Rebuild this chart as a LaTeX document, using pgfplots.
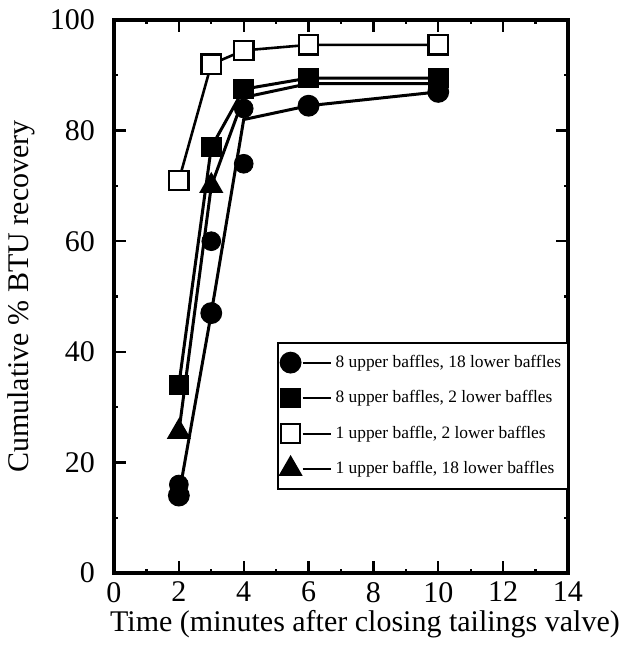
\documentclass[border=0pt]{standalone}
\usepackage{fontspec}
\setmainfont{Liberation Serif}
\usepackage{pgfplots}
\pgfplotsset{compat=1.18}
\begin{document}
\begin{tikzpicture}
\useasboundingbox (-57pt,-38pt) rectangle (260pt,286.5pt);
\begin{axis}[
  at={(0pt,0pt)}, anchor=south west,
  scale only axis, width=227pt, height=276.5pt,
  xmin=0, xmax=14, ymin=0, ymax=100,
  xtick={0,2,...,14}, ytick={0,20,...,100},
  minor xtick={1,3,...,13}, minor ytick={10,30,...,90},
  tick align=inside, major tick length=6pt, minor tick length=2pt,
  every tick/.style={line width=1.2pt, black},
  axis line style={line width=2pt},
  /pgf/number format/assume math mode=true,
  tick label style={font=\fontsize{15}{15}\selectfont},
  yticklabel style={xshift=-6pt},
  xticklabel style={yshift=-1pt},
  xlabel={Time (minutes after closing tailings valve)},
  ylabel={Cumulative \% BTU recovery},
  label style={font=\fontsize{15}{15}\selectfont},
  xlabel style={yshift=3pt, xshift=12pt},
  ylabel style={yshift=0.5pt},
  legend cell align=left,
  legend style={anchor=north west, draw=black, line width=1pt,
    font=\fontsize{8.7}{8.7}\selectfont, row sep=6.1pt, inner xsep=1.5pt, inner ysep=4pt,
    /tikz/every even column/.append style={column sep=0pt}},
  legend style={at={(rel axis cs:0,0)}, xshift=81.5pt, yshift=115.5pt},
  legend image code/.code={%
    \draw[#1,only marks] plot coordinates {(0cm,0cm)};
    \draw[#1,mark=none,line width=1pt] (6pt,0cm) -- (20pt,0cm);},
]
% circles: 8 upper, 18 lower
\addplot[black, line width=1.5pt, mark=*, mark size=4.7pt, mark indices={1,2,4,5}]
  coordinates {(2,14) (3,47) (4,82) (6,84.5) (10,87)};
\addlegendentry{8 upper baffles, 18 lower baffles}
% filled squares
\addplot[black, line width=1.5pt, mark=square*, mark size=4.4pt]
  coordinates {(2,34) (3,77) (4,87.5) (6,89.5) (10,89.5)};
\addlegendentry{8 upper baffles, 2 lower baffles}
% open squares
\addplot[black, line width=1.3pt, mark=square*, mark size=4.8pt,
  mark options={fill=white, line width=1.2pt}]
  coordinates {(2,71) (3,92) (4,94.5) (6,95.5) (10,95.5)};
\addlegendentry{1 upper baffle, 2 lower baffles}
% triangles
\addplot[black, line width=1.5pt, mark=triangle*, mark size=5.5pt, mark indices={1,2}]
  coordinates {(2,25.5) (3,70) (4,86) (6,88.5) (10,88.5)};
\addlegendentry{1 upper baffle, 18 lower baffles}
% additional circle points
\addplot[black, only marks, mark=*, mark size=4.7pt, forget plot]
  coordinates {(2,16) (3,60) (4,74) (4,84)};
\end{axis}
\end{tikzpicture}
\end{document}
